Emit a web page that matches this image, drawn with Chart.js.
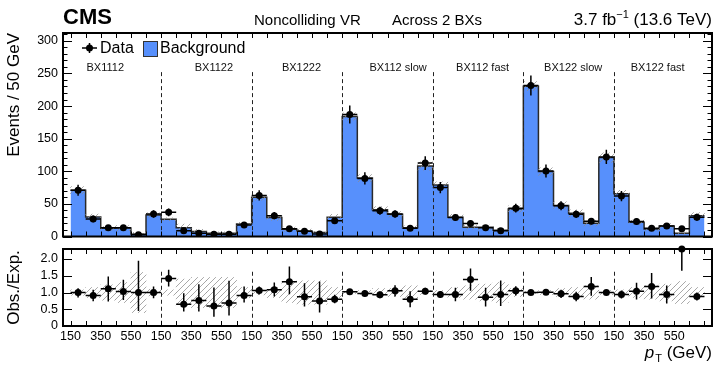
<!DOCTYPE html>
<html>
<head>
<meta charset="utf-8">
<script src="https://cdn.jsdelivr.net/npm/chart.js@4.4.1/dist/chart.umd.min.js"></script>
<style>
  html, body { margin: 0; padding: 0; background: #fff; }
  #wrap { position: relative; width: 720px; height: 368px; }
  #c1 { position: absolute; left: 0; top: 0; }
  #c2 { position: absolute; left: 0; top: 241px; }
</style>
</head>
<body>
<div id="wrap">
  <canvas id="c1" width="720" height="241"></canvas>
  <canvas id="c2" width="720" height="127"></canvas>
</div>
<script>
// 7 regions x 6 pT bins
const regions = ['BX1112', 'BX1122', 'BX1222', 'BX112 slow', 'BX112 fast', 'BX122 slow', 'BX122 fast'];
const ptTickLabels = ['150', '', '350', '', '550', ''];

const bgVals = [
  71, 30, 12.5, 13, 4, 33,
  26.5, 13.5, 7.5, 5, 5, 19,
  60, 29, 11, 8.5, 6, 29.5,
  184, 89.5, 41, 34, 13.5, 108,
  79, 29.5, 14, 14, 9.5, 42,
  230.5, 99.5, 47.5, 35.5, 20.5, 121,
  65.5, 22, 11.5, 16, 5, 32
];
const dataVals = [
  71, 27, 13.5, 13.5, 2.5, 34.5,
  37, 9, 5, 3.5, 3.5, 17.5,
  63, 32, 12, 8, 4, 24,
  187, 89, 39.5, 34.5, 12.5, 112.5,
  75, 29, 20, 13.5, 9, 43.5,
  231.5, 100.5, 47, 34, 23.5, 122,
  62, 23, 12.5, 16, 12, 29.5
];
const dataErr = [
  8.4, 5.2, 3.7, 3.7, 1.6, 5.9,
  6.1, 3, 2.2, 1.9, 1.9, 4.2,
  7.9, 5.7, 3.5, 2.8, 2, 4.9,
  13.7, 9.4, 6.3, 5.9, 3.5, 10.6,
  8.7, 5.4, 4.5, 3.7, 3, 6.6,
  15.2, 10, 6.9, 5.8, 4.8, 11,
  7.9, 4.8, 3.5, 4, 3.5, 5.4
];
// relative background uncertainty (hatched band)
const bandUnc = [
  0.08, 0.15, 0.23, 0.3, 0.6, 0.1,
  0.08, 0.4, 0.45, 0.45, 0.45, 0.15,
  0.07, 0.15, 0.3, 0.35, 0.35, 0.15,
  0.03, 0.06, 0.12, 0.12, 0.2, 0.06,
  0.06, 0.15, 0.2, 0.25, 0.3, 0.12,
  0.03, 0.06, 0.12, 0.15, 0.2, 0.06,
  0.08, 0.15, 0.2, 0.25, 0.33, 0.15
];
const ratioVals = [
  1.0, 0.91, 1.11, 1.03, 1.0, 1.0,
  1.42, 0.65, 0.76, 0.6, 0.69, 0.91,
  1.06, 1.08, 1.32, 0.87, 0.75, 0.8,
  1.02, 0.97, 0.93, 1.05, 0.8, 1.04,
  0.94, 0.94, 1.39, 0.86, 0.94, 1.05,
  1.0, 1.01, 0.96, 0.88, 1.18, 1.0,
  0.94, 1.04, 1.18, 0.94, 2.3, 0.88
];
const ratioLo = [
  0.85, 0.74, 0.73, 0.78, 0.45, 0.83,
  1.18, 0.43, 0.43, 0.28, 0.31, 0.7,
  0.94, 0.88, 0.95, 0.58, 0.4, 0.68,
  0.96, 0.89, 0.83, 0.88, 0.56, 0.94,
  0.84, 0.74, 1.05, 0.58, 0.6, 0.91,
  0.95, 0.94, 0.84, 0.74, 0.9, 0.93,
  0.82, 0.79, 0.82, 0.67, 1.65, 0.76
];
const ratioHi = [
  1.13, 1.08, 1.48, 1.38, 1.95, 1.18,
  1.68, 0.98, 1.25, 1.15, 1.35, 1.18,
  1.18, 1.3, 1.78, 1.28, 1.33, 0.93,
  1.08, 1.05, 1.03, 1.22, 1.04, 1.14,
  1.04, 1.14, 1.72, 1.14, 1.36, 1.19,
  1.05, 1.08, 1.08, 1.02, 1.46, 1.07,
  1.06, 1.29, 1.58, 1.21, 2.3, 1.0
];

const nBins = bgVals.length;
const FONT = '"Liberation Sans", Arial, Helvetica, sans-serif';
const BLUE = '#5790fc';

function makeHatch() {
  const c = document.createElement('canvas');
  c.width = 6; c.height = 6;
  const g = c.getContext('2d');
  g.strokeStyle = 'rgba(140,140,140,0.75)';
  g.lineWidth = 1;
  g.beginPath();
  g.moveTo(0, 6); g.lineTo(6, 0);
  g.moveTo(-1, 1); g.lineTo(1, -1);
  g.moveTo(5, 7); g.lineTo(7, 5);
  g.stroke();
  return g.createPattern(c, 'repeat');
}
const hatch = makeHatch();

// draws the ROOT-style frame with inward ticks
function drawFrame(chart, yMinor, yMajor, majLen, minLen) {
  const { ctx, chartArea: a, scales: { x, y } } = chart;
  ctx.save();
  ctx.strokeStyle = '#000';
  ctx.lineWidth = 1;
  ctx.beginPath();
  for (let v = 0; v <= nBins; v++) {
    const px = Math.round(x.getPixelForValue(v)) + 0.5;
    ctx.moveTo(px, a.bottom); ctx.lineTo(px, a.bottom - 5);
    ctx.moveTo(px, a.top); ctx.lineTo(px, a.top + 5);
  }
  const n = Math.floor(y.max / yMinor + 1e-6);
  for (let k = 0; k <= n; k++) {
    const v = k * yMinor;
    const isMaj = Math.abs(v / yMajor - Math.round(v / yMajor)) < 1e-6;
    const len = isMaj ? majLen : minLen;
    if (!len) continue;
    const py = Math.round(y.getPixelForValue(v)) + 0.5;
    ctx.moveTo(a.left, py); ctx.lineTo(a.left + len, py);
    ctx.moveTo(a.right, py); ctx.lineTo(a.right - len, py);
  }
  ctx.stroke();
  ctx.lineWidth = 2;
  ctx.strokeRect(a.left, a.top, a.right - a.left, a.bottom - a.top);
  ctx.restore();
}

function drawSeparators(chart, fromVal) {
  const { ctx, scales: { x, y } } = chart;
  ctx.save();
  ctx.strokeStyle = '#222';
  ctx.lineWidth = 1;
  ctx.setLineDash([4, 3]);
  for (let r = 1; r < regions.length; r++) {
    const px = Math.round(x.getPixelForValue(r * 6)) + 0.5;
    ctx.beginPath();
    ctx.moveTo(px, y.getPixelForValue(fromVal));
    ctx.lineTo(px, y.getPixelForValue(0));
    ctx.stroke();
  }
  ctx.restore();
}

function drawErrorBars(chart, vals, lo, hi) {
  const { ctx, scales: { x, y } } = chart;
  ctx.save();
  ctx.strokeStyle = '#000';
  ctx.lineWidth = 1.5;
  ctx.beginPath();
  vals.forEach((v, i) => {
    const cx = x.getPixelForValue(i + 0.5);
    const cy = y.getPixelForValue(v);
    ctx.moveTo(x.getPixelForValue(i), cy);
    ctx.lineTo(x.getPixelForValue(i + 1), cy);
    ctx.moveTo(cx, y.getPixelForValue(lo[i]));
    ctx.lineTo(cx, y.getPixelForValue(hi[i]));
  });
  ctx.stroke();
  ctx.restore();
}

const topPlugin = {
  id: 'topDecor',
  afterDatasetsDraw(chart) {
    const { ctx, scales: { x, y } } = chart;
    drawErrorBars(chart, dataVals,
      dataVals.map((v, i) => Math.max(0, v - dataErr[i])),
      dataVals.map((v, i) => v + dataErr[i]));
    drawSeparators(chart, 252);
    // region labels
    const shift = [-0.7, 0.5, 0.3, 0.7, 0.3, 0.3, -0.1];
    ctx.save();
    ctx.fillStyle = '#111';
    ctx.font = '11px ' + FONT;
    ctx.textAlign = 'center';
    ctx.textBaseline = 'middle';
    regions.forEach((r, i) => {
      ctx.fillText(r, x.getPixelForValue(i * 6 + 3 + shift[i]), y.getPixelForValue(259));
    });
    ctx.restore();
    drawFrame(chart, 10, 50, 9, 4.5);
  },
  afterDraw(chart) {
    const { ctx, chartArea: a } = chart;
    ctx.save();
    ctx.fillStyle = '#000';
    ctx.textBaseline = 'alphabetic';
    ctx.textAlign = 'left';
    ctx.font = 'bold 22px ' + FONT;
    ctx.fillText('CMS', a.left, 24);
    ctx.font = '15px ' + FONT;
    ctx.fillText('Noncolliding VR', 254, 25);
    ctx.fillText('Across 2 BXs', 392, 25);
    // luminosity label, right aligned
    const p1 = '3.7 fb', sup = '\u22121', p2 = ' (13.6 TeV)';
    ctx.font = '17px ' + FONT;
    const w1 = ctx.measureText(p1).width, w2 = ctx.measureText(p2).width;
    ctx.font = '11px ' + FONT;
    const ws = ctx.measureText(sup).width;
    let sx = a.right - (w1 + ws + w2);
    ctx.font = '17px ' + FONT;
    ctx.fillText(p1, sx, 25);
    ctx.font = '11px ' + FONT;
    ctx.fillText(sup, sx + w1, 18);
    ctx.font = '17px ' + FONT;
    ctx.fillText(p2, sx + w1 + ws, 25);

    // legend
    const ly = a.top + 15;
    ctx.strokeStyle = '#000';
    ctx.lineWidth = 1.5;
    ctx.beginPath();
    ctx.moveTo(a.left + 19, ly); ctx.lineTo(a.left + 34, ly);
    ctx.moveTo(a.left + 26.5, ly - 5); ctx.lineTo(a.left + 26.5, ly + 5);
    ctx.stroke();
    ctx.beginPath();
    ctx.arc(a.left + 26.5, ly, 3.5, 0, Math.PI * 2);
    ctx.fill();
    ctx.font = '16px ' + FONT;
    ctx.textBaseline = 'middle';
    ctx.fillText('Data', a.left + 37, ly + 1);
    ctx.fillStyle = BLUE;
    ctx.fillRect(a.left + 80, ly - 7, 14, 15);
    ctx.strokeStyle = '#333';
    ctx.lineWidth = 1;
    ctx.strokeRect(a.left + 80.5, ly - 6.5, 14, 15);
    ctx.fillStyle = '#000';
    ctx.fillText('Background', a.left + 97, ly + 1);
    ctx.restore();
  }
};

const botPlugin = {
  id: 'botDecor',
  afterDatasetsDraw(chart) {
    drawErrorBars(chart, ratioVals, ratioLo, ratioHi);
    drawSeparators(chart, 1.62);
    drawFrame(chart, 0.5, 0.5, 9, 0);
  },
  afterDraw(chart) {
    const { ctx, chartArea: a } = chart;
    ctx.save();
    ctx.fillStyle = '#000';
    ctx.textBaseline = 'alphabetic';
    ctx.textAlign = 'left';
    const rest = ' (GeV)';
    ctx.font = '17px ' + FONT;
    const wr = ctx.measureText(rest).width;
    ctx.font = 'italic 17px ' + FONT;
    const wp = ctx.measureText('p').width;
    ctx.font = '11px ' + FONT;
    const wt = ctx.measureText('T').width;
    const base = 117;
    let sx = a.right - (wp + wt + 1 + wr);
    ctx.font = 'italic 17px ' + FONT;
    ctx.fillText('p', sx, base);
    ctx.font = '11px ' + FONT;
    ctx.fillText('T', sx + wp + 1, base + 4);
    ctx.font = '17px ' + FONT;
    ctx.fillText(rest, sx + wp + wt + 1, base);
    ctx.restore();
  }
};

const noGrid = { display: false, drawTicks: false };
// keep the axes from reserving extra room for half-labels
function fixY(s) { s.width = 63; s.paddingTop = 0; s.paddingBottom = 0; }
function fixX(h) { return s => { s.height = h; s.paddingLeft = 0; s.paddingRight = 0; }; }

new Chart(document.getElementById('c1'), {
  type: 'scatter',
  data: {
    datasets: [
      {
        type: 'scatter',
        label: 'Data',
        data: dataVals.map((v, i) => ({ x: i + 0.5, y: v })),
        pointRadius: 3.5,
        pointBackgroundColor: '#000',
        pointBorderWidth: 0,
        order: 0
      },
      {
        type: 'bar',
        label: 'Bkg. unc.',
        data: bgVals.map((v, i) => ({ x: i + 0.5, y: [v * (1 - bandUnc[i]), v * (1 + bandUnc[i])] })),
        backgroundColor: hatch,
        borderWidth: 0,
        barPercentage: 1,
        categoryPercentage: 1,
        order: 1
      },
      {
        type: 'line',
        label: 'Background',
        data: bgVals.map((v, i) => ({ x: i, y: v })).concat([{ x: nBins, y: bgVals[nBins - 1] }]),
        stepped: true,
        fill: 'origin',
        backgroundColor: BLUE,
        borderColor: '#2a2a2a',
        borderWidth: 1.5,
        pointRadius: 0,
        order: 2
      }
    ]
  },
  options: {
    responsive: false,
    animation: false,
    layout: { padding: { top: 33, right: 8, left: 0, bottom: 0 } },
    plugins: { legend: { display: false }, tooltip: { enabled: false } },
    scales: {
      x: {
        type: 'linear', min: 0, max: nBins,
        ticks: { display: false, stepSize: 1 },
        grid: noGrid, border: { display: false },
        afterFit: fixX(4.5)
      },
      y: {
        min: 0, max: 312,
        ticks: { stepSize: 50, includeBounds: false, color: '#000', padding: 5, font: { size: 12.5, family: FONT } },
        grid: noGrid, border: { display: false },
        title: { display: true, text: 'Events / 50 GeV', align: 'end', color: '#000', font: { size: 17, family: FONT } },
        afterFit: fixY
      }
    }
  },
  plugins: [topPlugin]
});

new Chart(document.getElementById('c2'), {
  type: 'scatter',
  data: {
    datasets: [
      {
        type: 'scatter',
        label: 'Obs./Exp.',
        data: ratioVals.map((v, i) => ({ x: i + 0.5, y: v })),
        pointRadius: 3.5,
        pointBackgroundColor: '#000',
        pointBorderWidth: 0,
        clip: false,
        order: 0
      },
      {
        type: 'bar',
        label: 'Bkg. unc.',
        data: bandUnc.map((u, i) => ({ x: i + 0.5, y: [1 - u, 1 + u] })),
        backgroundColor: hatch,
        borderWidth: 0,
        barPercentage: 1,
        categoryPercentage: 1,
        order: 1
      }
    ]
  },
  options: {
    responsive: false,
    animation: false,
    layout: { padding: { top: 8, right: 8, left: 0, bottom: 0 } },
    plugins: { legend: { display: false }, tooltip: { enabled: false } },
    scales: {
      x: {
        type: 'linear', min: 0, max: nBins,
        ticks: {
          stepSize: 1, autoSkip: false, maxRotation: 0, padding: 3,
          color: '#000', font: { size: 12.5, family: FONT },
          callback: v => (v < nBins ? ptTickLabels[v % 6] : '')
        },
        grid: noGrid, border: { display: false },
        afterFit: fixX(42)
      },
      y: {
        min: 0, max: 2.3,
        ticks: { stepSize: 0.5, includeBounds: false, color: '#000', padding: 5, font: { size: 12.5, family: FONT } },
        grid: noGrid, border: { display: false },
        title: { display: true, text: 'Obs./Exp.', align: 'center', color: '#000', font: { size: 17, family: FONT } },
        afterFit: fixY
      }
    }
  },
  plugins: [botPlugin]
});
</script>
</body>
</html>
